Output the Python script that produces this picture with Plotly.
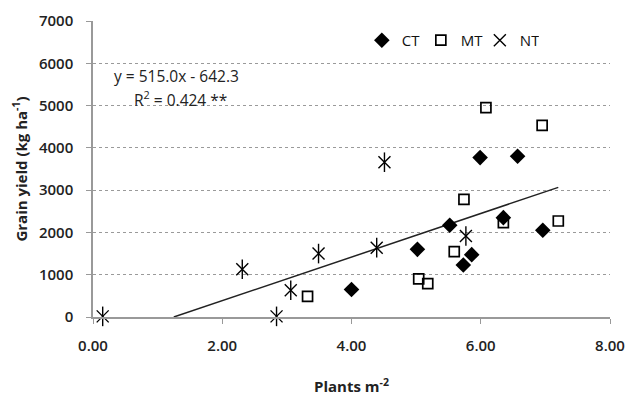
import plotly.graph_objects as go

# ---- data ----
ct_x = [4.00, 5.02, 5.52, 5.73, 5.86, 5.99, 6.35, 6.57, 6.96]
ct_y = [650, 1600, 2170, 1230, 1475, 3770, 2350, 3800, 2050]

mt_x = [3.32, 5.04, 5.18, 5.59, 5.74, 6.08, 6.35, 6.95, 7.20]
mt_y = [490, 900, 790, 1546, 2783, 4950, 2232, 4533, 2270]

nt_x = [0.15, 2.31, 2.84, 3.06, 3.49, 4.39, 4.51, 5.77]
nt_y = [15, 1128, 15, 631, 1500, 1640, 3660, 1916]

trend_x = [1.25, 7.20]
trend_y = [0, 3066]

x_ticks = [0, 2, 4, 6, 8]
x_tick_labels = ["0.00", "2.00", "4.00", "6.00", "8.00"]
y_ticks = [0, 1000, 2000, 3000, 4000, 5000, 6000, 7000]

FONT = "Open Sans"

fig = go.Figure()

fig.add_trace(go.Scatter(
    x=trend_x, y=trend_y, mode="lines", cliponaxis=False,
    line=dict(color="#222222", width=1.5), showlegend=False, hoverinfo="skip"))

fig.add_trace(go.Scatter(
    x=ct_x, y=ct_y, mode="markers", name="CT", cliponaxis=False,
    marker=dict(symbol="diamond", size=12, color="black")))

fig.add_trace(go.Scatter(
    x=mt_x, y=mt_y, mode="markers", name="MT", cliponaxis=False,
    marker=dict(symbol="square-open", size=10, color="black",
                line=dict(color="black", width=1.7))))

fig.add_trace(go.Scatter(
    x=nt_x, y=nt_y, mode="markers", name="NT", legendgroup="nt", cliponaxis=False,
    marker=dict(symbol="x-thin-open", size=12, color="black",
                line=dict(color="black", width=1.4))))
fig.add_trace(go.Scatter(
    x=nt_x, y=nt_y, mode="markers", name="NT", legendgroup="nt", showlegend=False,
    cliponaxis=False,
    marker=dict(symbol="line-ns-open", size=14, color="black",
                line=dict(color="black", width=1.4))))

fig.update_layout(
    width=627, height=396,
    margin=dict(l=93, r=17, t=21, b=79),
    paper_bgcolor="white", plot_bgcolor="white",
    font=dict(family=FONT, size=15, color="#222222"),
    legend=dict(orientation="h", x=0.52, y=0.99, xanchor="left", yanchor="top",
                bgcolor="rgba(0,0,0,0)", font=dict(size=15, color="#111111"),
                itemwidth=30, tracegroupgap=0, entrywidth=14, entrywidthmode="pixels"),
    annotations=[
        dict(xref="paper", yref="paper", x=0.037, y=0.815, xanchor="left", yanchor="middle",
             text="y = 515.0x - 642.3", showarrow=False, font=dict(size=15.5)),
        dict(xref="paper", yref="paper", x=0.075, y=0.738, xanchor="left", yanchor="middle",
             text="R<sup>2</sup> = 0.424 **", showarrow=False, font=dict(size=15.5)),
    ],
)

fig.update_xaxes(
    range=[0, 8], tickvals=x_ticks, ticktext=x_tick_labels,
    showgrid=False, zeroline=False, automargin=False,
    showline=True, linecolor="#999999", linewidth=1.5,
    ticks="outside", ticklen=5, tickcolor="#999999",
    tickfont=dict(size=15, weight=600), ticklabelstandoff=9,
    title=dict(text="Plants m<sup>-2</sup>", font=dict(size=15, weight=700), standoff=34))

fig.update_yaxes(
    range=[0, 7000], tickvals=y_ticks, automargin=False,
    showgrid=True, gridcolor="#9a9a9a", griddash="dot", gridwidth=1,
    zeroline=False, showline=True, linecolor="#999999", linewidth=1.5,
    ticks="outside", ticklen=5, tickcolor="#999999",
    tickfont=dict(size=15, weight=600), ticklabelstandoff=10,
    title=dict(text="Grain yield (kg ha<sup>-1</sup>)", font=dict(size=15, weight=700), standoff=8))

fig.write_html("out.html")
